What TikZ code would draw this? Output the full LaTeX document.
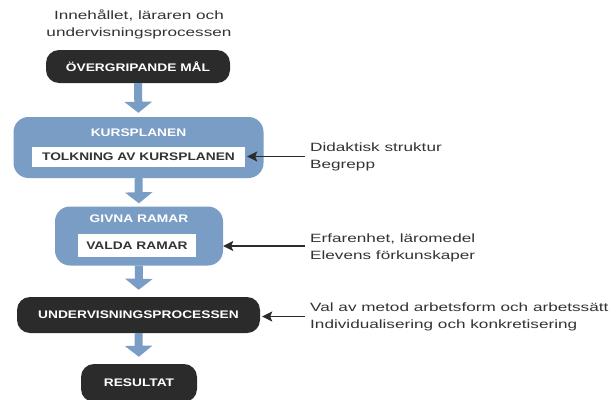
\documentclass[tikz,border=0pt]{standalone}
\usepackage{fontspec}
\setmainfont{Liberation Sans}[FakeStretch=1.25]
\newfontfamily\plainfont{Liberation Sans}[FakeStretch=1.43]
\usetikzlibrary{arrows.meta}
\definecolor{dk}{HTML}{2B2B2B}
\definecolor{bl}{HTML}{7A9DC6}
\definecolor{txt}{HTML}{333333}
\begin{document}
\begin{tikzpicture}[x=1pt,y=-1pt,
  lbl/.style={font=\bfseries\fontsize{11}{12}\selectfont},
  darkbox/.style={lbl, fill=dk, text=white, rounded corners=13pt, inner sep=0pt},
  bluebox/.style={fill=bl, rounded corners=15pt, inner sep=0pt},
  whitebox/.style={lbl, fill=white, text=txt, inner sep=0pt},
  bluelbl/.style={lbl, text=white},
  plain/.style={font=\plainfont\fontsize{12}{17}\selectfont, text=txt, align=left, inner sep=0pt},
  bluearrow/.style={draw=bl, line width=8pt, -{Triangle[width=27pt,length=11pt]}},
  blackarrow/.style={draw=dk, line width=1.6pt, -{Stealth[length=10pt,width=10pt,inset=2pt]}}]
\useasboundingbox (0,0) rectangle (613,399);
\fill[white] (0,0) rectangle (613,399);

\node[plain, align=center] (top) at (139,24) {Innehållet, läraren och\\undervisningsprocessen};

\node[darkbox, minimum width=184pt, minimum height=33pt] (ov) at (138,66.5) {ÖVERGRIPANDE MÅL};

\node[bluebox, minimum width=250pt, minimum height=61pt] (kp) at (138.5,147.5) {};
\node[bluelbl] (kpl) at (138.5,133) {KURSPLANEN};
\node[whitebox, minimum width=213pt, minimum height=20pt] (tolk) at (138.5,157) {TOLKNING AV KURSPLANEN};

\node[bluebox, minimum width=168pt, minimum height=59pt] (gr) at (139,236) {};
\node[bluelbl] (grl) at (139,219) {GIVNA RAMAR};
\node[whitebox, minimum width=118pt, minimum height=23pt] (valda) at (137,245.5) {VALDA RAMAR};

\node[darkbox, minimum width=243pt, minimum height=36pt] (up) at (138.5,315) {UNDERVISNINGSPROCESSEN};

\node[darkbox, minimum width=116pt, minimum height=38pt] (res) at (139,383) {RESULTAT};

\draw[bluearrow, shorten >=4pt] (ov.south) -- (kp.north);
\draw[bluearrow, shorten >=3pt] (kp.south) -- (gr.north);
\draw[bluearrow, shorten >=7pt] (gr.south) -- (up.north);
\draw[bluearrow, shorten >=7pt] (up.south) -- (res.north);

\node[plain, anchor=west] (t1) at (310,156.5) {Didaktisk struktur\\Begrepp};
\node[plain, anchor=west] (t2) at (310,248) {Erfarenhet, läromedel\\Elevens förkunskaper};
\node[plain, anchor=west] (t3) at (310,316.5) {Val av metod arbetsform och arbetssätt\\Individualisering och konkretisering};

\draw[blackarrow, shorten <=5pt, shorten >=2pt] (t1.west) -- (t1.west -| tolk.east);
\draw[blackarrow, shorten <=5pt] ([yshift=2pt]t2.west) -- ([yshift=2pt]t2.west -| gr.east);
\draw[blackarrow, shorten <=5pt, shorten >=2pt] (t3.west) -- (t3.west -| up.east);
\end{tikzpicture}
\end{document}
